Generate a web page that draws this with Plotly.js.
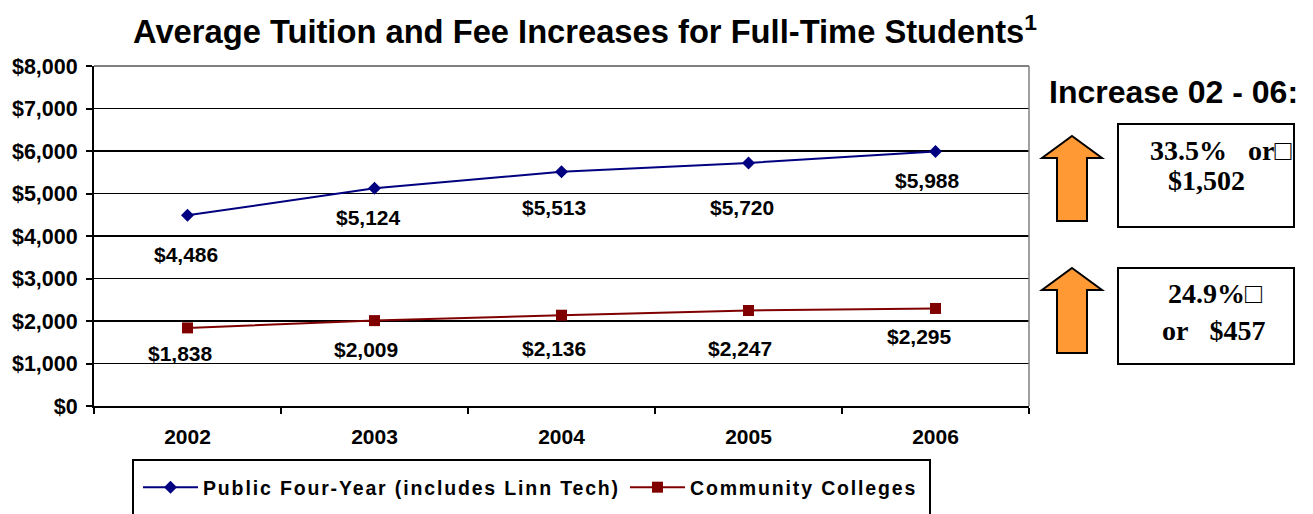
<!DOCTYPE html>
<html>
<head>
<meta charset="utf-8">
<script src="https://cdn.plot.ly/plotly-3.0.1.min.js"></script>
<style>
html,body{margin:0;padding:0;background:#fff;}
.legendtext{letter-spacing:1.85px;}
</style>
</head>
<body>
<div id="chart" style="width:1313px;height:514px;"></div>
<script>
// ---- data ----
const years = ['2002', '2003', '2004', '2005', '2006'];
const publicFourYear = [4486, 5124, 5513, 5720, 5988];
const communityColleges = [1838, 2009, 2136, 2247, 2295];
const seriesNames = ['Public Four-Year (includes Linn Tech)', 'Community Colleges'];
const increaseTitle = 'Increase 02 - 06:';
const publicIncrease = ['33.5%\u00A0\u00A0\u00A0or\u25A1', '$1,502'];
const communityIncrease = ['24.9%\u25A1', 'or\u00A0\u00A0\u00A0$457'];

// ---- layout helpers (pixel -> paper) ----
const L = 94, R = 1029, T = 66, B = 406;
const px = x => (x - L) / (R - L);
const py = y => (B - y) / (B - T);

// label offsets (pixels) relative to marker: [dx, dy]
const pubLabelOff = [[-2, 39], [-6, 29], [-8, 36], [-7, 45], [-8, 29]];
const ccLabelOff = [[-7, 26], [-9, 29], [-8, 33], [-9, 38], [-16, 28]];

const FONT = 'Liberation Sans, Arial, sans-serif';
const SERIF = 'Liberation Serif, Times New Roman, serif';
const fmt = v => '$' + v.toLocaleString('en-US');

const traces = [
  {
    x: years, y: publicFourYear, name: seriesNames[0], type: 'scatter', mode: 'lines+markers',
    line: {color: '#000080', width: 2},
    marker: {symbol: 'diamond', size: 10, color: '#000080'}
  },
  {
    x: years, y: communityColleges, name: seriesNames[1], type: 'scatter', mode: 'lines+markers',
    line: {color: '#800000', width: 2},
    marker: {symbol: 'square', size: 11, color: '#800000'}
  }
];

const annotations = [];
years.forEach((yr, i) => {
  annotations.push({x: i, y: publicFourYear[i], xref: 'x', yref: 'y', text: fmt(publicFourYear[i]),
    showarrow: false, xanchor: 'center', yanchor: 'middle',
    xshift: pubLabelOff[i][0], yshift: -pubLabelOff[i][1],
    font: {family: FONT, size: 21, color: '#000', weight: 'bold'}});
  annotations.push({x: i, y: communityColleges[i], xref: 'x', yref: 'y', text: fmt(communityColleges[i]),
    showarrow: false, xanchor: 'center', yanchor: 'middle',
    xshift: ccLabelOff[i][0], yshift: -ccLabelOff[i][1],
    font: {family: FONT, size: 21, color: '#000', weight: 'bold'}});
});
annotations.push({xref: 'paper', yref: 'paper', x: px(1173), y: py(92), text: increaseTitle,
  showarrow: false, xanchor: 'center', yanchor: 'middle',
  font: {family: FONT, size: 32, color: '#000', weight: 'bold'}});
const boxText = (t, x, y) => ({xref: 'paper', yref: 'paper', x: px(x), y: py(y), text: t,
  showarrow: false, xanchor: 'left', yanchor: 'middle',
  font: {family: SERIF, size: 28, color: '#000', weight: 'bold'}});
annotations.push(boxText(publicIncrease[0], 1148, 150));
annotations.push(boxText(publicIncrease[1], 1166, 180));
annotations.push(boxText(communityIncrease[0], 1166, 293));
annotations.push(boxText(communityIncrease[1], 1160, 330));

function arrowPath(tipY, baseY, botY) {
  const pts = [[1072, tipY], [1102, baseY], [1087, baseY], [1087, botY], [1057, botY], [1057, baseY], [1042, baseY]];
  return 'M' + pts.map(p => px(p[0]) + ',' + py(p[1])).join(' L') + ' Z';
}

const shapes = [
  {type: 'line', xref: 'paper', yref: 'paper', x0: 0, x1: 1, y0: 1, y1: 1, line: {color: '#808080', width: 2}},
  {type: 'line', xref: 'paper', yref: 'paper', x0: 1, x1: 1, y0: 0, y1: 1, line: {color: '#808080', width: 1.5}},
  {type: 'path', xref: 'paper', yref: 'paper', path: arrowPath(136, 158, 221), fillcolor: '#FF9933', line: {color: '#000', width: 2}},
  {type: 'path', xref: 'paper', yref: 'paper', path: arrowPath(268, 290, 353), fillcolor: '#FF9933', line: {color: '#000', width: 2}},
  {type: 'rect', xref: 'paper', yref: 'paper', x0: px(1118), x1: px(1294), y0: py(124), y1: py(227), line: {color: '#000', width: 2}},
  {type: 'rect', xref: 'paper', yref: 'paper', x0: px(1118), x1: px(1294), y0: py(268), y1: py(364), line: {color: '#000', width: 2}},
  {type: 'rect', xref: 'paper', yref: 'paper', x0: px(133), x1: px(930), y0: py(460), y1: py(525), line: {color: '#000', width: 2}}
];

const layout = {
  width: 1313, height: 514,
  margin: {l: L, r: 1313 - R, t: T, b: 514 - B, autoexpand: false},
  paper_bgcolor: '#fff', plot_bgcolor: '#fff',
  title: {
    text: 'Average Tuition and Fee Increases for Full-Time Students<sup>1</sup>',
    font: {family: FONT, size: 32.7, color: '#000', weight: 'bold'},
    xref: 'paper', x: px(585), xanchor: 'center',
    yref: 'container', y: 1 - 32 / 514, yanchor: 'middle'
  },
  xaxis: {
    type: 'category', range: [-0.5, 4.5], fixedrange: true, automargin: false,
    showline: true, linecolor: '#000', linewidth: 2,
    ticks: 'outside', tickson: 'boundaries', ticklen: 6, tickcolor: '#000', tickwidth: 2,
    ticklabelstandoff: 11,
    showgrid: false, zeroline: false,
    tickfont: {family: FONT, size: 21, color: '#000', weight: 'bold'}
  },
  yaxis: {
    range: [0, 8000], dtick: 1000, tick0: 0, fixedrange: true, automargin: false,
    tickprefix: '$', tickformat: ',d',
    showline: true, linecolor: '#000', linewidth: 2,
    ticks: 'outside', ticklen: 6, tickcolor: '#000', tickwidth: 2,
    ticklabelstandoff: 4,
    showgrid: true, gridcolor: '#000', gridwidth: 1.5,
    zeroline: false,
    tickfont: {family: FONT, size: 21.5, color: '#000', weight: 'bold'}
  },
  showlegend: true,
  legend: {
    orientation: 'h', xref: 'paper', yref: 'paper',
    x: px(138), xanchor: 'left', y: py(468), yanchor: 'top',
    bgcolor: 'rgba(0,0,0,0)', borderwidth: 0,
    itemwidth: 55, itemclick: false, itemdoubleclick: false,
    font: {family: FONT, size: 19.5, color: '#000', weight: 'bold'}
  },
  annotations: annotations,
  shapes: shapes
};

Plotly.newPlot('chart', traces, layout, {displayModeBar: false, staticPlot: true});
</script>
</body>
</html>
